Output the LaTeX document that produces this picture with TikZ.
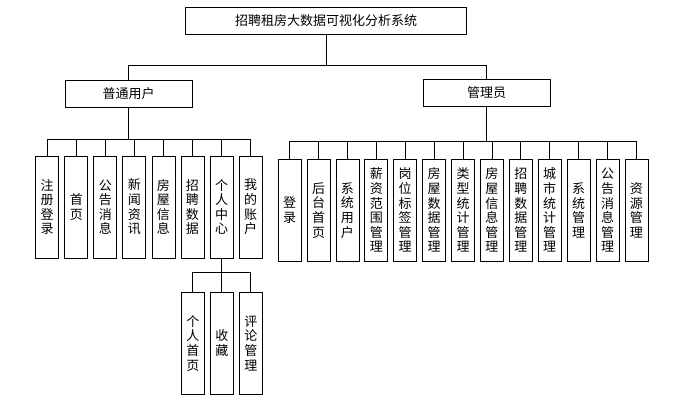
\documentclass[tikz,border=0pt]{standalone}
\usepackage{fontspec}
\setmainfont{Noto Sans CJK SC}
\usepackage{tikz}
\usetikzlibrary{positioning, calc}

\begin{document}
\begin{tikzpicture}[x=1pt, y=-1pt,
    wbox/.style={draw, line width=0.8pt, inner sep=0pt, minimum height=27pt, font=\fontsize{13}{14.6}\selectfont},
    vbox/.style={draw, line width=0.8pt, inner sep=0pt, minimum width=23pt, minimum height=102pt, align=center, font=\fontsize{13}{14.6}\selectfont},
    link/.style={line width=0.8pt}]
  \useasboundingbox (0,0) rectangle (675,409);

  % Top levels
  \node[wbox, minimum width=280.7pt] (sys) at (326, 20.8) {招聘租房大数据可视化分析系统};
  \node[wbox, minimum width=127pt] (user) at (128.5, 93.5) {普通用户};
  \node[wbox, minimum width=127pt] (admin) at (486.7, 93) {管理员};
  \draw[link] (sys.south) -- ++(0,30.7) -| (user.north);
  \draw[link] (sys.south) -- ++(0,30.7) -| (admin.north);

  % Ordinary user functions
  \foreach \t [count=\i] in {{注\\册\\登\\录}, {首\\页}, {公\\告\\消\\息}, {新\\闻\\资\\讯},
      {房\\屋\\信\\息}, {招\\聘\\数\\据}, {个\\人\\中\\心}, {我\\的\\账\\户}} {
    \node[vbox] (u\i) at ({47.2 + 29.05*(\i-1)}, 207) {\t};
    \draw[link] (user.south) -- ++(0,32) -| (u\i.north);
  }

  % Personal center
  \foreach \t [count=\i] in {{个\\人\\首\\页}, {收\\藏}, {评\\论\\管\\理}} {
    \node[vbox] (p\i) at ({192.8 + 29*(\i-1)}, 343.3) {\t};
    \draw[link] (u7.south) -- ++(0,14.3) -| (p\i.north);
  }

  % Administrator functions
  \foreach \t [count=\i] in {{登\\录}, {后\\台\\首\\页}, {系\\统\\用\\户}, {薪\\资\\范\\围\\管\\理},
      {岗\\位\\标\\签\\管\\理}, {房\\屋\\数\\据\\管\\理}, {类\\型\\统\\计\\管\\理},
      {房\\屋\\信\\息\\管\\理}, {招\\聘\\数\\据\\管\\理}, {城\\市\\统\\计\\管\\理},
      {系\\统\\管\\理}, {公\\告\\消\\息\\管\\理}, {资\\源\\管\\理}} {
    \node[vbox, minimum height=102.7pt] (a\i) at ({289.6 + 28.9*(\i-1)}, 210.3) {\t};
    \draw[link] (admin.south) -- ++(0,35) -| (a\i.north);
  }
\end{tikzpicture}
\end{document}
